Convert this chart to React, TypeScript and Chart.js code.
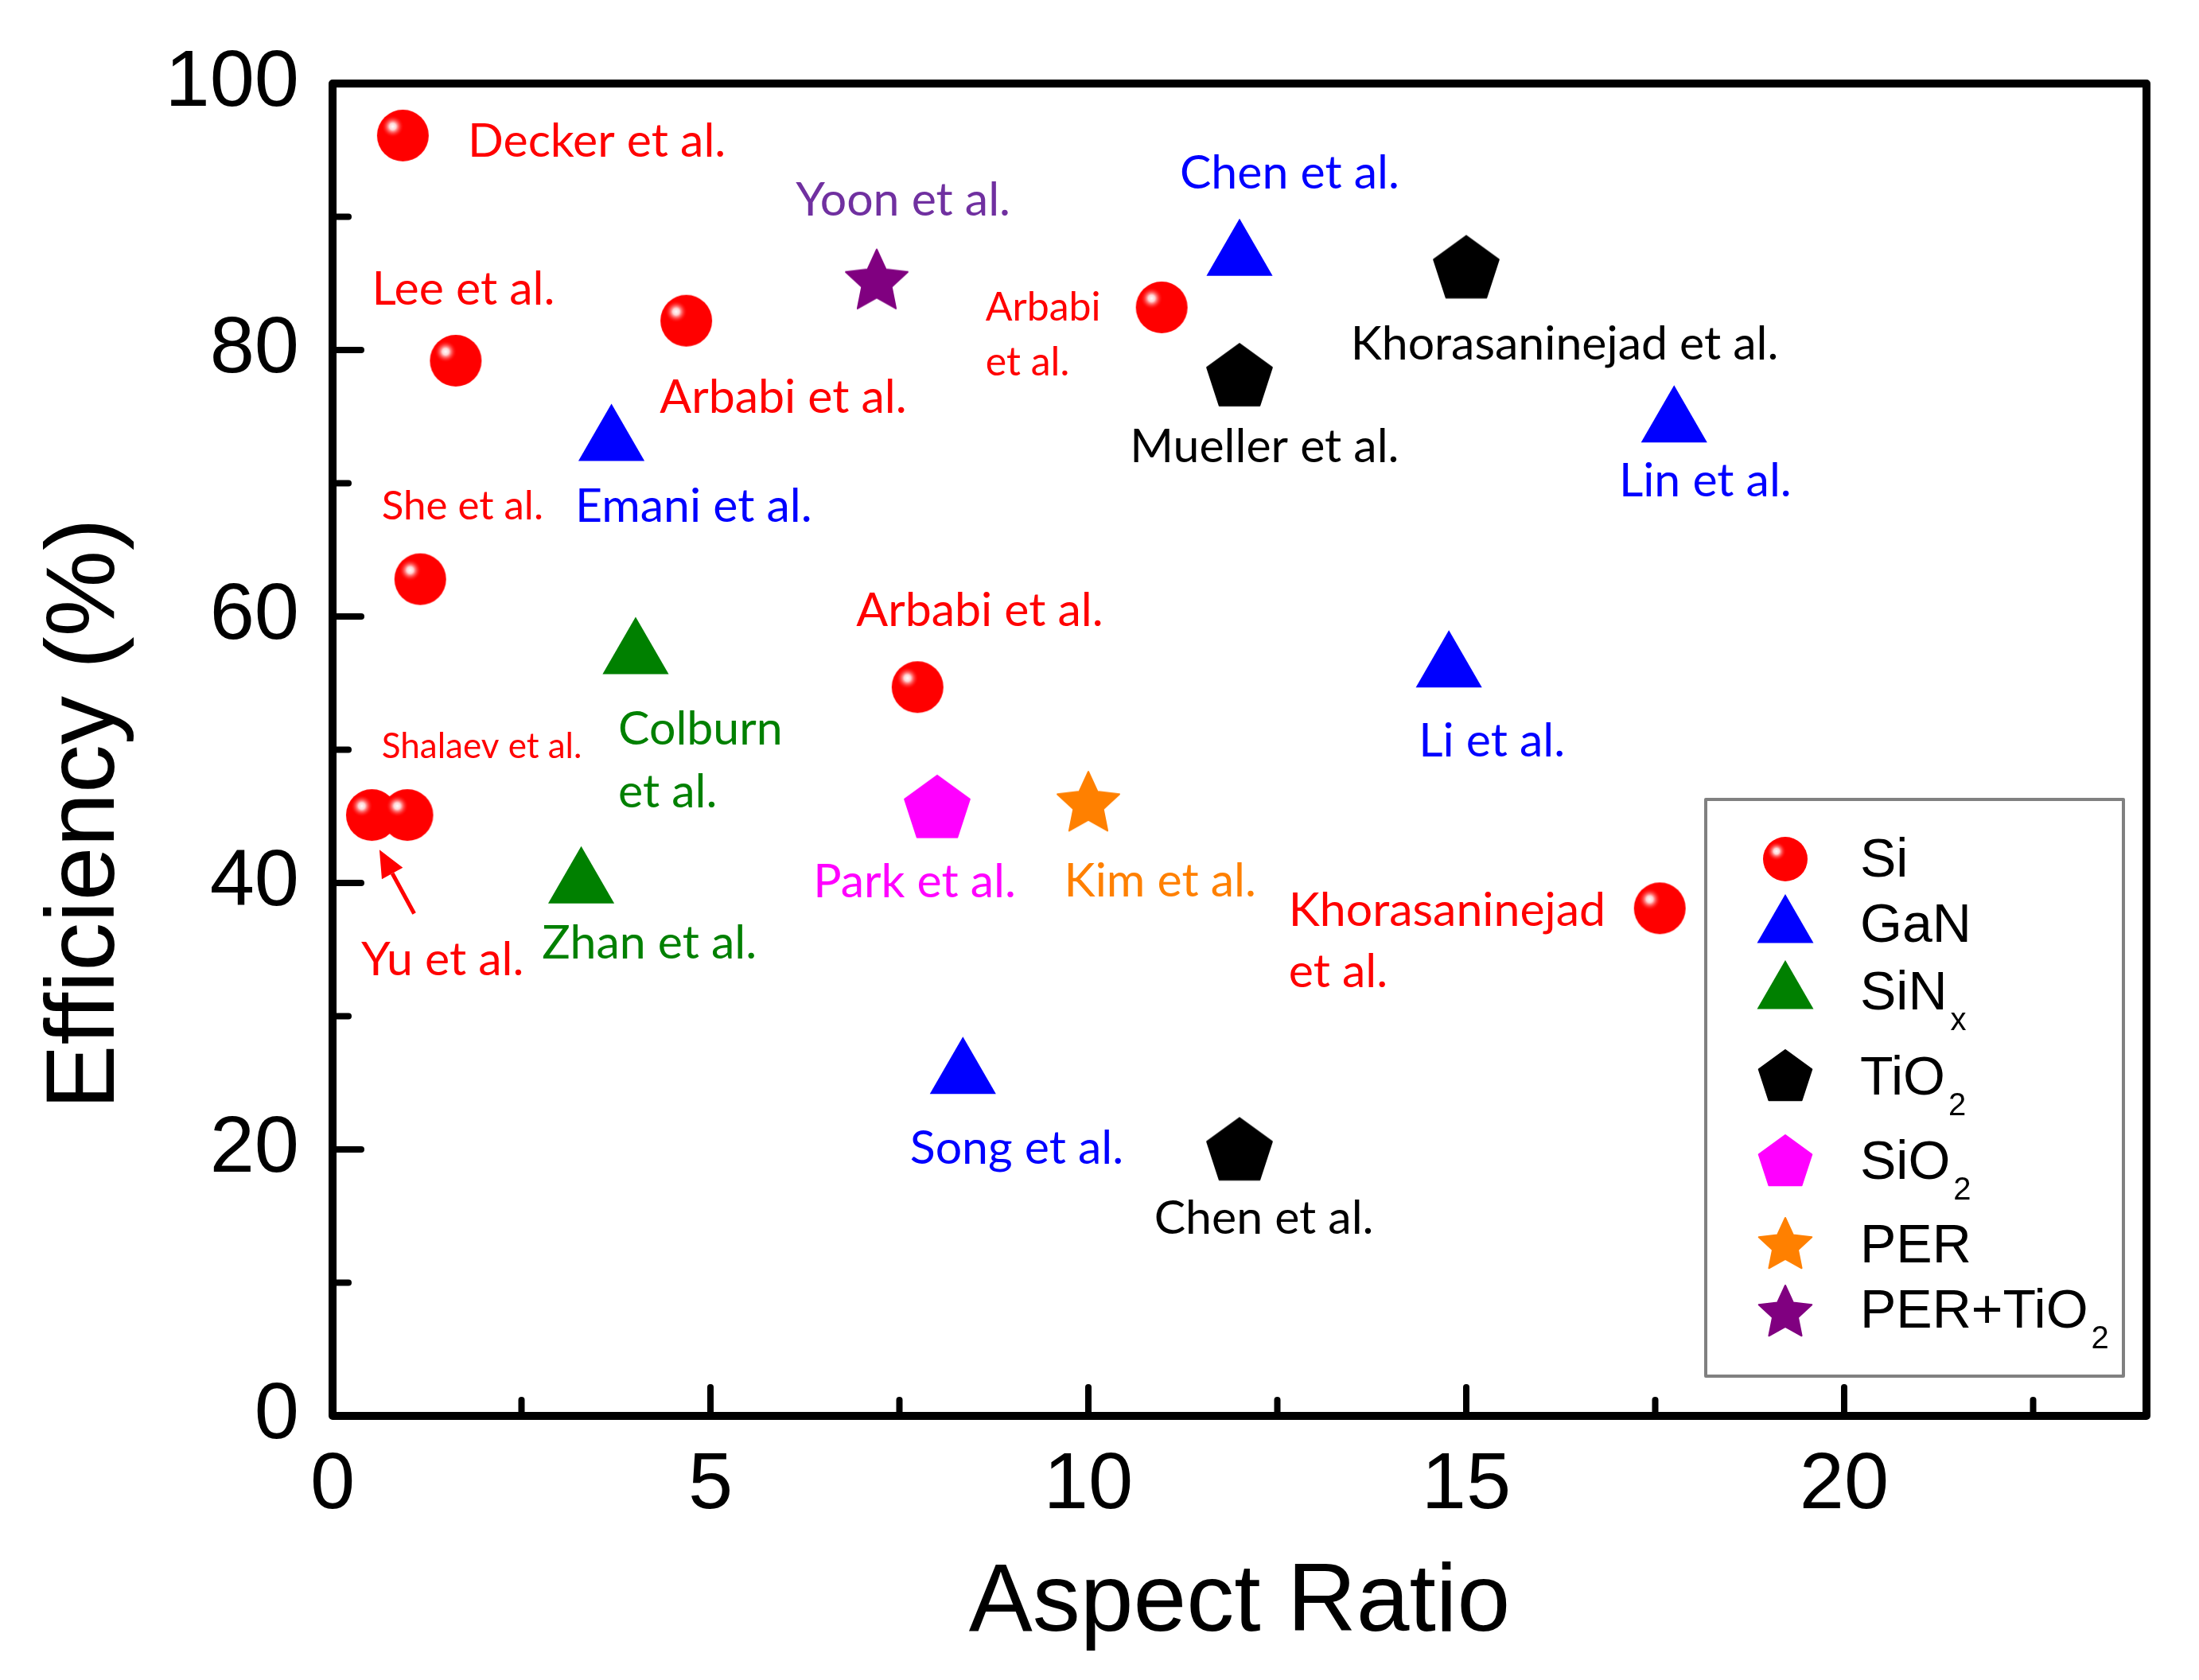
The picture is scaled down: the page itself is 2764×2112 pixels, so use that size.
import React, { useEffect, useRef } from 'react';
import { Chart, registerables } from 'chart.js';

Chart.register(...registerables);

// ---------- data ----------
const xTickLabels = ['0', '5', '10', '15', '20'];
const yTickLabels = ['0', '20', '40', '60', '80', '100'];

const siX = [0.93, 1.63, 4.68, 1.16, 7.74, 0.52, 0.99, 10.97, 17.56];
const siY = [96.1, 79.2, 82.2, 62.8, 54.7, 45.1, 45.1, 83.2, 38.1];
const ganX = [12.0, 3.69, 17.75, 14.77, 8.34];
const ganY = [87.0, 73.1, 74.5, 56.1, 25.6];
const sinxX = [4.01, 3.29];
const sinxY = [57.1, 39.9];
const tio2X = [15.0, 12.0, 12.0];
const tio2Y = [86.0, 77.9, 19.8];
const sio2X = [8.0];
const sio2Y = [45.5];
const perX = [10.0];
const perY = [45.9];
const perTio2X = [7.2];
const perTio2Y = [85.1];

const legendNames = ['Si', 'GaN', 'SiN', 'TiO', 'SiO', 'PER', 'PER+TiO'];
const legendSubs = ['', '', 'x', '2', '2', '', '2'];

// annotation texts (left / baseline anchor, in data units)
const noteText = [
  'Decker et al.', 'Yoon et al.', 'Chen et al.', 'Lee et al.', 'Arbabi', 'et al.',
  'Khorasaninejad et al.', 'Arbabi et al.', 'Mueller et al.', 'Lin et al.', 'She et al.',
  'Emani et al.', 'Arbabi et al.', 'Shalaev et al.', 'Colburn', 'et al.', 'Li et al.',
  'Park et al.', 'Kim et al.', 'Khorasaninejad', 'et al.', 'Yu et al.', 'Zhan et al.',
  'Song et al.', 'Chen et al.',
];
const noteX = [1.79, 6.13, 11.21, 0.52, 8.64, 8.64, 13.47, 4.33, 10.55, 17.02, 0.65, 3.21, 6.93, 0.65, 3.78, 3.78, 14.37, 6.36, 9.68, 12.65, 12.65, 0.38, 2.77, 7.64, 10.87];
const noteY = [94.5, 90.1, 92.1, 83.4, 82.2, 78.1, 79.3, 75.3, 71.6, 69.0, 67.3, 67.1, 59.3, 49.4, 50.4, 45.7, 49.5, 38.9, 39.0, 36.8, 32.2, 33.1, 34.3, 18.9, 13.7];

const RED = '#ff0000';
const BLUE = '#0000ff';
const GREEN = '#008000';
const BLACK = '#000000';
const MAGENTA = '#ff00ff';
const ORANGE = '#ff8000';
const PURPLE = '#800080';
const PURPLE_TXT = '#7030a0';

const noteColor = [RED, PURPLE_TXT, BLUE, RED, RED, RED, BLACK, RED, BLACK, BLUE, RED, BLUE, RED, RED, GREEN, GREEN, BLUE, MAGENTA, ORANGE, RED, RED, RED, GREEN, BLUE, BLACK];
const noteSize = [63, 63, 63, 63, 54, 54, 63, 63, 63, 63, 55, 63, 63, 47, 63, 63, 63, 63, 63, 63, 63, 63, 63, 63, 63];

// arrow for Yu et al. (tail -> tip)
const arrowFrom = { x: 1.08, y: 37.7 };
const arrowTo = { x: 0.62, y: 42.5 };

// ---------- marker images ----------
function makeSphere(d: number): HTMLCanvasElement {
  const c = document.createElement('canvas');
  c.width = d;
  c.height = d;
  const g = c.getContext('2d')!;
  const r = d / 2;
  g.beginPath();
  g.arc(r, r, r - 1, 0, Math.PI * 2);
  g.fillStyle = RED;
  g.fill();
  const hx = d * 0.31;
  const hy = d * 0.33;
  const hg = g.createRadialGradient(hx, hy, 0, hx, hy, r * 0.42);
  hg.addColorStop(0, 'rgba(255,255,255,1)');
  hg.addColorStop(0.3, 'rgba(255,235,235,0.9)');
  hg.addColorStop(1, 'rgba(255,0,0,0)');
  g.fillStyle = hg;
  g.beginPath();
  g.arc(r, r, r - 1, 0, Math.PI * 2);
  g.fill();
  return c;
}

function makePoly(R: number, color: string, star: boolean): HTMLCanvasElement {
  const s = Math.ceil(2 * R + 4);
  const c = document.createElement('canvas');
  c.width = s;
  c.height = s;
  const g = c.getContext('2d')!;
  const cx = s / 2;
  const cy = s / 2;
  g.beginPath();
  const n = star ? 10 : 5;
  for (let k = 0; k < n; k++) {
    const a = -Math.PI / 2 + (k * 2 * Math.PI) / n;
    const rr = star ? (k % 2 === 0 ? R : R * 0.48) : R;
    const px = cx + rr * Math.cos(a);
    const py = cy + rr * Math.sin(a);
    if (k === 0) g.moveTo(px, py);
    else g.lineTo(px, py);
  }
  g.closePath();
  g.fillStyle = color;
  g.lineJoin = 'round';
  g.strokeStyle = color;
  g.lineWidth = 2;
  g.fill();
  g.stroke();
  return c;
}

function drawTriangle(ctx: CanvasRenderingContext2D, x: number, y: number, r: number, color: string) {
  ctx.beginPath();
  for (let k = 0; k < 3; k++) {
    const a = -Math.PI / 2 + (k * 2 * Math.PI) / 3;
    const px = x + r * Math.cos(a);
    const py = y + r * Math.sin(a);
    if (k === 0) ctx.moveTo(px, py);
    else ctx.lineTo(px, py);
  }
  ctx.closePath();
  ctx.fillStyle = color;
  ctx.fill();
}

const pts = (xs: number[], ys: number[]) => xs.map((x, i) => ({ x, y: ys[i] }));

export default function App() {
  const ref = useRef<HTMLCanvasElement>(null);

  useEffect(() => {
    const sphere = makeSphere(67);
    const tio2Img = makePoly(43, BLACK, false);
    const sio2Img = makePoly(43, MAGENTA, false);
    const perImg = makePoly(41, ORANGE, true);
    const perTio2Img = makePoly(41, PURPLE, true);

    const legSphere = makeSphere(58);
    const legTio2 = makePoly(35, BLACK, false);
    const legSio2 = makePoly(35, MAGENTA, false);
    const legPer = makePoly(35, ORANGE, true);
    const legPerTio2 = makePoly(35, PURPLE, true);

    const AX_FONT = '"Liberation Sans", Arial, sans-serif';
    const NOTE_FONT = 'Lato, "Open Sans", sans-serif';
    const NOTE_K = 0.93;

    const deco = {
      id: 'deco',
      beforeDraw(chart: any) {
        const ctx = chart.ctx;
        ctx.save();
        ctx.fillStyle = '#ffffff';
        ctx.fillRect(0, 0, chart.width, chart.height);
        ctx.restore();
      },
      afterDatasetsDraw(chart: any) {
        const ctx: CanvasRenderingContext2D = chart.ctx;
        const xs = chart.scales.x;
        const ys = chart.scales.y;
        ctx.save();
        ctx.textBaseline = 'alphabetic';
        ctx.textAlign = 'left';
        for (let i = 0; i < noteText.length; i++) {
          ctx.font = `${Math.round(noteSize[i] * NOTE_K)}px ${NOTE_FONT}`;
          ctx.fillStyle = noteColor[i];
          ctx.fillText(noteText[i], xs.getPixelForValue(noteX[i]), ys.getPixelForValue(noteY[i]));
        }
        // arrow
        const x1 = xs.getPixelForValue(arrowFrom.x);
        const y1 = ys.getPixelForValue(arrowFrom.y);
        const x2 = xs.getPixelForValue(arrowTo.x);
        const y2 = ys.getPixelForValue(arrowTo.y);
        const ang = Math.atan2(y2 - y1, x2 - x1);
        const hl = 34;
        const hw = 15;
        const bx = x2 - hl * Math.cos(ang);
        const by = y2 - hl * Math.sin(ang);
        ctx.strokeStyle = RED;
        ctx.fillStyle = RED;
        ctx.lineWidth = 5;
        ctx.beginPath();
        ctx.moveTo(x1, y1);
        ctx.lineTo(bx, by);
        ctx.stroke();
        ctx.beginPath();
        ctx.moveTo(x2, y2);
        ctx.lineTo(bx + hw * Math.sin(ang), by - hw * Math.cos(ang));
        ctx.lineTo(bx - hw * Math.sin(ang), by + hw * Math.cos(ang));
        ctx.closePath();
        ctx.fill();
        ctx.restore();
      },
      afterDraw(chart: any) {
        const ctx: CanvasRenderingContext2D = chart.ctx;
        const a = chart.chartArea;
        const xs = chart.scales.x;
        const ys = chart.scales.y;
        ctx.save();
        // inward ticks
        ctx.strokeStyle = BLACK;
        ctx.lineWidth = 8;
        ctx.lineCap = 'round';
        xs.ticks.forEach((t: any) => {
          const v = t.value;
          if (Math.abs(v / 2.5 - Math.round(v / 2.5)) > 1e-6) return;
          const major = Math.abs(v / 5 - Math.round(v / 5)) < 1e-6;
          const px = xs.getPixelForValue(v);
          ctx.beginPath();
          ctx.moveTo(px, a.bottom);
          ctx.lineTo(px, a.bottom - (major ? 36 : 20));
          ctx.stroke();
        });
        ys.ticks.forEach((t: any) => {
          const v = t.value;
          const major = Math.abs(v / 20 - Math.round(v / 20)) < 1e-6;
          const py = ys.getPixelForValue(v);
          ctx.beginPath();
          ctx.moveTo(a.left, py);
          ctx.lineTo(a.left + (major ? 36 : 20), py);
          ctx.stroke();
        });
        // frame
        ctx.lineCap = 'butt';
        ctx.lineJoin = 'round';
        ctx.lineWidth = 10;
        ctx.strokeRect(a.left, a.top, a.right - a.left, a.bottom - a.top);

        // y title
        ctx.save();
        ctx.translate(143, 1023);
        ctx.rotate(-Math.PI / 2);
        ctx.font = `122px ${AX_FONT}`;
        ctx.fillStyle = BLACK;
        ctx.textAlign = 'center';
        ctx.textBaseline = 'alphabetic';
        ctx.fillText('Efficiency (%)', 0, 0);
        ctx.restore();

        // legend
        ctx.lineWidth = 4;
        ctx.strokeStyle = '#808080';
        ctx.fillStyle = '#ffffff';
        ctx.fillRect(2144, 1005, 525, 725);
        ctx.strokeRect(2144, 1005, 525, 725);
        const mx = 2244;
        const markerY = [1080, 1165, 1248, 1355, 1462, 1566, 1651];
        const textY = [1102, 1184, 1269, 1376, 1482, 1587, 1669];
        const imgs: any[] = [legSphere, null, null, legTio2, legSio2, legPer, legPerTio2];
        for (let i = 0; i < legendNames.length; i++) {
          if (i === 1) drawTriangle(ctx, mx, markerY[i], 41, BLUE);
          else if (i === 2) drawTriangle(ctx, mx, markerY[i], 41, GREEN);
          else {
            const im = imgs[i];
            ctx.drawImage(im, mx - im.width / 2, markerY[i] - im.height / 2);
          }
          ctx.fillStyle = BLACK;
          ctx.textAlign = 'left';
          ctx.textBaseline = 'alphabetic';
          ctx.font = `68px ${AX_FONT}`;
          ctx.fillText(legendNames[i], 2338, textY[i]);
          if (legendSubs[i]) {
            const w = ctx.measureText(legendNames[i]).width;
            ctx.font = `40px ${AX_FONT}`;
            ctx.fillText(legendSubs[i], 2338 + w + 4, textY[i] + 26);
          }
        }
        ctx.restore();
      },
    };

    const common = { showLine: false, pointBorderWidth: 0, borderWidth: 0, pointHoverRadius: 0 };

    const chart = new Chart(ref.current!, {
      type: 'scatter',
      data: {
        datasets: [
          { label: 'Si', data: pts(siX, siY), pointStyle: sphere as any, pointRadius: 34, backgroundColor: RED, ...common },
          { label: 'GaN', data: pts(ganX, ganY), pointStyle: 'triangle', pointRadius: 48, backgroundColor: BLUE, borderColor: BLUE, ...common },
          { label: 'SiNx', data: pts(sinxX, sinxY), pointStyle: 'triangle', pointRadius: 48, backgroundColor: GREEN, borderColor: GREEN, ...common },
          { label: 'TiO2', data: pts(tio2X, tio2Y), pointStyle: tio2Img as any, pointRadius: 43, backgroundColor: BLACK, ...common },
          { label: 'SiO2', data: pts(sio2X, sio2Y), pointStyle: sio2Img as any, pointRadius: 43, backgroundColor: MAGENTA, ...common },
          { label: 'PER', data: pts(perX, perY), pointStyle: perImg as any, pointRadius: 41, backgroundColor: ORANGE, ...common },
          { label: 'PER+TiO2', data: pts(perTio2X, perTio2Y), pointStyle: perTio2Img as any, pointRadius: 41, backgroundColor: PURPLE, ...common },
        ] as any,
      },
      options: {
        animation: false,
        responsive: false,
        devicePixelRatio: 1,
        events: [],
        layout: { padding: { top: 105, right: 66, left: 0, bottom: 0 } },
        plugins: { legend: { display: false }, tooltip: { enabled: false } },
        scales: {
          x: {
            type: 'linear',
            min: 0,
            max: 24,
            grid: { display: false },
            border: { display: false },
            ticks: {
              stepSize: 2.5,
              includeBounds: false,
              autoSkip: false,
              maxRotation: 0,
              padding: 20,
              color: BLACK,
              font: { family: AX_FONT, size: 101 },
              callback: (v: any) => (xTickLabels.includes(String(v)) ? String(v) : ''),
            },
            title: {
              display: true,
              text: 'Aspect Ratio',
              color: BLACK,
              font: { family: AX_FONT, size: 120 },
              padding: { top: 0, bottom: 23 },
            },
            afterFit: (s: any) => {
              s.height = 332;
            },
          },
          y: {
            type: 'linear',
            min: 0,
            max: 100,
            grid: { display: false },
            border: { display: false },
            ticks: {
              stepSize: 10,
              autoSkip: false,
              padding: 34,
              color: BLACK,
              font: { family: AX_FONT, size: 101 },
              callback: (v: any) => (yTickLabels.includes(String(v)) ? String(v) : ''),
            },
            afterFit: (s: any) => {
              s.width = 418;
            },
          },
        },
      } as any,
      plugins: [deco],
    });
    return () => chart.destroy();
  }, []);

  return (
    <div style={{ position: 'absolute', left: 0, top: 0, width: 2764, height: 2112, background: '#ffffff' }}>
      <canvas ref={ref} width={2764} height={2112} style={{ display: 'block', width: 2764, height: 2112 }} />
    </div>
  );
}
